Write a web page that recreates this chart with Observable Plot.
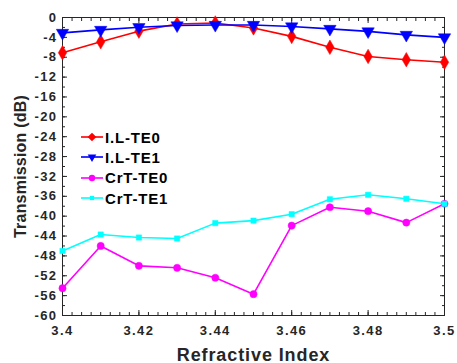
<!DOCTYPE html>
<html><head><meta charset="utf-8">
<script src="https://cdn.jsdelivr.net/npm/d3@7"></script>
<script src="https://cdn.jsdelivr.net/npm/@observablehq/plot@0.6"></script>
<style>
body{margin:0;background:#fff;font-family:"Liberation Sans",Arial,sans-serif;}
#wrap{position:relative;width:457px;height:363px;}
#legend{position:absolute;left:80px;top:127px;}
.row{display:flex;align-items:center;height:20.3px;font-weight:bold;font-size:15px;letter-spacing:0.8px;color:#000;}
.row svg{margin-right:1px;}
</style></head>
<body><div id="wrap"><div id="legend"></div></div>
<script>
const refractiveIndex = [3.40, 3.41, 3.42, 3.43, 3.44, 3.45, 3.46, 3.47, 3.48, 3.49, 3.50];
const ilTE0  = [-7.1, -4.9, -2.75, -1.3, -1.1, -2.1, -3.8, -6.0, -7.85, -8.5, -9.0];
const ilTE1  = [-3.1, -2.5, -1.95, -1.6, -1.5, -1.5, -1.8, -2.3, -2.8, -3.5, -4.0];
const crtTE0 = [-54.5, -46.0, -50.0, -50.4, -52.4, -55.7, -41.9, -38.2, -39.0, -41.3, -37.5];
const crtTE1 = [-47.0, -43.7, -44.3, -44.5, -41.4, -40.9, -39.6, -36.6, -35.7, -36.5, -37.5];
const seriesNames = ["I.L-TE0", "I.L-TE1", "CrT-TE0", "CrT-TE1"];
const seriesColors = ["#ff0000", "#0000ff", "#ff00ff", "#00ffff"];
const seriesSymbols = ["diamond", "triangle", "circle", "square"];
const seriesRotate = [0, 180, 0, 0];
const seriesSizes = [4.4, 4.6, 3.6, 3.0];
const xTicks = [3.4, 3.42, 3.44, 3.46, 3.48, 3.5];
const yTicks = d3.range(0, -61, -4);

const seriesValues = [ilTE0, ilTE1, crtTE0, crtTE1];
const series = seriesNames.map((name, i) => ({
  name, color: seriesColors[i], symbol: seriesSymbols[i], rotate: seriesRotate[i], r: seriesSizes[i],
  data: refractiveIndex.map((x, j) => ({x, y: seriesValues[i][j]}))
}));

const axisColor = "#262626";
const fmtY = d => d === 0 ? "0" : "-" + Math.abs(d);
const marks = [];
const minorX = d3.range(0, 41).map(i => +(3.4 + i * 0.0025).toFixed(4));
const minorY = d3.range(0, -61, -2);
for (const a of ["bottom", "top"]) {
  marks.push(Plot.axisX(minorX, {anchor: a, tickSize: -3, text: null, label: null, stroke: axisColor}));
  marks.push(Plot.axisX(xTicks, {anchor: a, tickSize: -5, text: null, label: null, stroke: axisColor}));
}
for (const a of ["left", "right"]) {
  marks.push(Plot.axisY(minorY, {anchor: a, tickSize: -3, text: null, label: null, stroke: axisColor}));
  marks.push(Plot.axisY(yTicks, {anchor: a, tickSize: -5, text: null, label: null, stroke: axisColor}));
}
marks.push(Plot.axisX(xTicks, {anchor: "bottom", tickSize: 0, tickPadding: 10, tickFormat: d => String(d),
  label: "Refractive Index", labelAnchor: "center", labelArrow: "none", labelOffset: 45,
  fill: "#262626", fontWeight: "bold", fontSize: 13}));
marks.push(Plot.axisY(yTicks, {anchor: "left", tickSize: 0, tickPadding: 5, tickFormat: fmtY,
  label: "Transmission (dB)", labelAnchor: "center", labelArrow: "none", labelOffset: 48,
  fill: "#262626", fontWeight: "bold", fontSize: 13}));
marks.push(Plot.frame({stroke: axisColor, strokeWidth: 1}));
for (const s of series) {
  marks.push(Plot.line(s.data, {x: "x", y: "y", stroke: s.color, strokeWidth: 1.6}));
  marks.push(Plot.dot(s.data, {x: "x", y: "y", fill: s.color, stroke: s.color, symbol: s.symbol, r: s.r, rotate: s.rotate, strokeWidth: 0.5}));
}

const chart = Plot.plot({
  width: 457, height: 363,
  marginLeft: 62, marginRight: 13, marginTop: 17, marginBottom: 48,
  style: {fontFamily: '"Liberation Sans", Arial, sans-serif', background: "#fff", color: "#262626"},
  x: {domain: [3.4, 3.5]},
  y: {domain: [-60, 0]},
  marks
});
const wrap = document.getElementById("wrap");
wrap.insertBefore(chart, wrap.firstChild);
const root = d3.select(chart);
root.selectAll("[aria-label$='tick label'] text").style("letter-spacing", "1.4px");
root.selectAll("[aria-label='x-axis label'] text").attr("font-size", 18).attr("font-weight", "bold").style("letter-spacing", "0.9px");
root.selectAll("[aria-label='y-axis label'] text").attr("font-size", 16).attr("font-weight", "bold").style("letter-spacing", "0.2px");

const legend = d3.select("#legend");
for (const s of series) {
  const row = legend.append("div").attr("class", "row");
  const svg = row.append("svg").attr("width", 24).attr("height", 12);
  svg.append("line").attr("x1", 1).attr("x2", 23).attr("y1", 6).attr("y2", 6).attr("stroke", s.color).attr("stroke-width", 1.6);
  const sym = {diamond: d3.symbolDiamond2, triangle: d3.symbolTriangle2, circle: d3.symbolCircle, square: d3.symbolSquare2}[s.symbol];
  svg.append("path").attr("d", d3.symbol(sym, Math.PI * s.r * s.r * 0.8)()).attr("fill", s.color)
    .attr("transform", `translate(12,6) rotate(${s.rotate})`);
  row.append("span").text(s.name);
}
</script></body></html>
